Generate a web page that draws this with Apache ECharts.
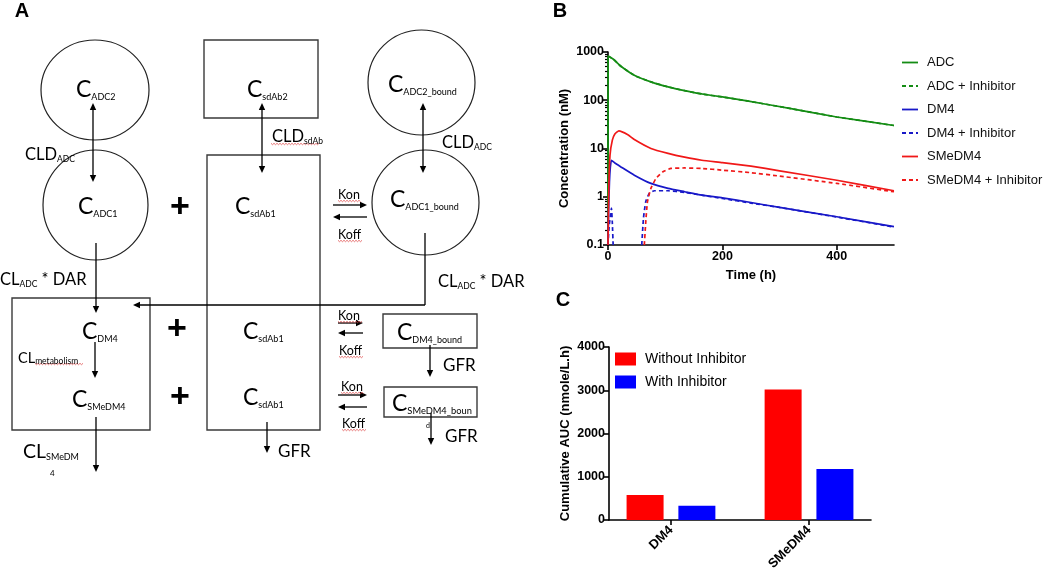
<!DOCTYPE html>
<html><head><meta charset="utf-8">
<script src="https://cdn.jsdelivr.net/npm/echarts@6/dist/echarts.min.js"></script>
<style>html,body{margin:0;padding:0;background:#fff}#c{width:1050px;height:575px}</style>
</head><body><div id="c"></div>
<script>
// ---------------- DATA ----------------
const lineSeriesNames = ['ADC', 'ADC + Inhibitor', 'DM4', 'DM4 + Inhibitor', 'SMeDM4', 'SMeDM4 + Inhibitor'];

const adcTime = [0, 0.3, 10, 22, 46, 75, 105, 134, 164, 200, 243, 320, 400, 500];
const adcConc = [0.1, 826, 700, 513, 329, 240, 189, 158, 135, 117, 97, 67, 45, 30];

const adcInhTime = [0, 0.3, 10, 22, 46, 75, 105, 134, 164, 200, 243, 320, 400, 500];
const adcInhConc = [0.1, 826, 700, 513, 329, 240, 189, 158, 135, 117, 97, 67, 45, 30];

const dm4Time = [0, 1, 2.5, 4, 6, 12, 22, 46, 75, 105, 134, 164, 200, 250, 300, 400, 500];
const dm4Conc = [0.1, 0.5, 2.0, 4.0, 5.7, 5.0, 4.2, 2.8, 1.89, 1.49, 1.27, 1.08, 0.95, 0.76, 0.6, 0.385, 0.24];

const dm4InhTime = [0, 2, 4, 6, 7.5, 9, 30, 59, 62, 66, 72, 81, 105, 134, 164, 200, 250, 300, 400, 500];
const dm4InhConc = [0.1, 0.25, 0.38, 0.58, 0.3, 0.1, null, 0.1, 0.36, 0.79, 1.17, 1.33, 1.33, 1.23, 1.08, 0.92, 0.74, 0.6, 0.38, 0.235];

const smeTime = [0, 1.5, 3.5, 7.6, 12, 19, 34, 46, 75, 105, 134, 164, 200, 250, 300, 400, 500];
const smeConc = [0.1, 1.7, 7.3, 14.9, 20, 23.2, 19.5, 15.3, 10, 7.9, 6.6, 5.7, 5.1, 4.3, 3.45, 2.2, 1.33];

const smeInhTime = [63.5, 66, 69, 75, 84, 96, 110, 134, 164, 200, 250, 300, 400, 500];
const smeInhConc = [0.1, 0.3, 0.79, 1.49, 2.4, 3.3, 3.86, 3.95, 3.86, 3.56, 3.15, 2.68, 1.89, 1.27];

const barCategories = ['DM4', 'SMeDM4'];
const barSeriesNames = ['Without Inhibitor', 'With Inhibitor'];
const aucWithout = [580, 3020];
const aucWith = [330, 1180];

const timeTicks = [0, 200, 400];
const concTickLabels = ['0.1', '1', '10', '100', '1000'];
const aucTickLabels = ['0', '1000', '2000', '3000', '4000'];

// ---------------- HELPERS ----------------
function zip(t, v) { return t.map((x, i) => [x, v[i] === null ? '-' : v[i]]); }
const concTickValues = concTickLabels.map(Number);
const minorTicks = [];
for (let d = 0; d < concTickValues.length - 1; d++) {
  for (let k = 2; k <= 9; k++) minorTicks.push(+(concTickValues[d] * k).toPrecision(3));
}
const catIdx = barCategories.map((c, i) => i);

const AF = '"Liberation Sans", Arial, sans-serif';
const DF = 'Lato, "Noto Sans", sans-serif';

// ---------------- DIAGRAM (panel A) ----------------
const els = [];
function ell(cx, cy, rx, ry) { els.push({ type: 'ellipse', shape: { cx, cy, rx, ry }, style: { fill: 'none', stroke: '#222', lineWidth: 1.2 } }); }
function box(x1, y1, x2, y2) { els.push({ type: 'rect', shape: { x: x1, y: y1, width: x2 - x1, height: y2 - y1 }, style: { fill: 'none', stroke: '#3a3a3a', lineWidth: 1.4 } }); }
function seg(x1, y1, x2, y2) { els.push({ type: 'line', shape: { x1, y1, x2, y2 }, style: { stroke: '#000', lineWidth: 1.3 } }); }
function head(x, y, dx, dy) {
  const L = 7, W = 3.2, bx = x - dx * L, by = y - dy * L, px = -dy, py = dx;
  els.push({ type: 'polygon', shape: { points: [[x, y], [bx + px * W, by + py * W], [bx - px * W, by - py * W]] }, style: { fill: '#000' } });
}
function arrow(x1, y1, x2, y2, both) {
  const len = Math.hypot(x2 - x1, y2 - y1), ux = (x2 - x1) / len, uy = (y2 - y1) / len;
  seg(x1 + (both ? ux * 5 : 0), y1 + (both ? uy * 5 : 0), x2 - ux * 5, y2 - uy * 5);
  head(x2, y2, ux, uy);
  if (both) head(x1, y1, -ux, -uy);
}
function txt(x, y, parts, family, weight) {
  const rich = {}; let s = '';
  parts.forEach((p, i) => {
    rich['t' + i] = { fontSize: p[1], fontFamily: family || DF, fontWeight: weight || 'normal', fill: '#000', color: '#000', verticalAlign: 'bottom' };
    s += '{t' + i + '|' + p[0] + '}';
  });
  els.push({ type: 'text', x, y, style: { text: s, rich, align: 'left', textAlign: 'left', verticalAlign: 'middle', textVerticalAlign: 'middle', fill: '#000' } });
}
function plus(cx, cy) {
  els.push({ type: 'text', x: cx, y: cy, style: { text: '+', fontSize: 34, fontWeight: 'bold', fontFamily: AF, fill: '#000', align: 'center', textAlign: 'center', verticalAlign: 'middle', textVerticalAlign: 'middle' } });
}
function squig(x1, x2, y) {
  const pts = []; let up = true;
  for (let x = x1; x <= x2; x += 1.5) { pts.push([x, y + (up ? -0.7 : 0.7)]); up = !up; }
  els.push({ type: 'polyline', shape: { points: pts }, style: { stroke: '#e05050', lineWidth: 0.8, fill: 'none' } });
}

// shapes
ell(95, 90, 54, 50);
ell(95.5, 205, 52.5, 55);
ell(421.5, 82.5, 53.5, 52.5);
ell(425.5, 202.5, 53.5, 52.5);
box(204, 40, 318, 118);
box(207, 155, 320, 430);
box(12, 298, 150, 430);
box(383, 314, 477, 348);
box(384, 387, 477, 417);

// arrows
arrow(93, 103, 93, 182, true);
arrow(262, 103, 262, 173, true);
arrow(423, 103, 423, 173, true);
seg(96, 243, 96, 309); head(96, 313, 0, 1);
seg(425, 233, 425, 305);
seg(425, 305, 137, 305); head(133, 305, -1, 0);
arrow(333, 205, 367, 205); arrow(367, 217, 333, 217);
arrow(95, 342, 95, 378);
arrow(96, 417, 96, 472);
arrow(267, 422, 267, 453);
arrow(338, 323, 363, 323); arrow(363, 333, 338, 333);
arrow(430, 345, 430, 377);
arrow(338, 395, 367, 395); arrow(367, 407, 338, 407);
arrow(431, 413, 431, 445);

// squiggles
squig(338, 361, 201); squig(338, 363, 241); squig(271, 320, 144); squig(35, 84, 364);
squig(338, 362, 322); squig(339, 363, 357); squig(341, 364, 393); squig(342, 366, 430);

// texts
txt(76, 90, [['C', 23], ['ADC2', 9]]);
txt(25, 155, [['CLD', 16.5], ['ADC', 8.5]]);
txt(78, 207, [['C', 23], ['ADC1', 9]]);
plus(180, 208);
txt(247, 90, [['C', 23], ['sdAb2', 9]]);
txt(272, 137, [['CLD', 16.5], ['sdAb', 8.5]]);
txt(235, 207, [['C', 23], ['sdAb1', 9]]);
txt(388, 85, [['C', 23], ['ADC2_bound', 9]]);
txt(442, 143, [['CLD', 16.5], ['ADC', 8.5]]);
txt(390, 200, [['C', 23], ['ADC1_bound', 9]]);
txt(338, 195, [['Kon', 12.5]]); txt(338, 235, [['Koff', 12.5]]);
txt(0, 280, [['CL', 16.5], ['ADC', 8.5], [' * DAR', 16.5]]);
txt(438, 282, [['CL', 16.5], ['ADC', 8.5], [' * DAR', 16.5]]);
txt(82, 332, [['C', 23], ['DM4', 9]]);
txt(18, 358, [['CL', 14.5], ['metabolism', 8.5]]);
txt(72, 400, [['C', 23], ['SMeDM4', 9]]);
plus(177, 330); plus(180, 398);
txt(243, 332, [['C', 23], ['sdAb1', 9]]);
txt(243, 398, [['C', 23], ['sdAb1', 9]]);
txt(23, 452, [['CL', 19.5], ['SMeDM', 9]]);
txt(50, 473, [['4', 8]]);
txt(278, 452, [['GFR', 17]]);
txt(338, 316, [['Kon', 12.5]]); txt(339, 351, [['Koff', 12.5]]);
txt(397, 333, [['C', 23], ['DM4_bound', 9]]);
txt(443, 366, [['GFR', 17]]);
txt(341, 387, [['Kon', 12.5]]); txt(342, 424, [['Koff', 12.5]]);
txt(392, 404, [['C', 23], ['SMeDM4_boun', 9.3]]);
txt(426, 426, [['d', 7]]);
txt(445, 437, [['GFR', 17]]);

// panel letters
function letter(x, y, s) { els.push({ type: 'text', x, y, style: { text: s, fontSize: 20, fontWeight: 'bold', fontFamily: AF, fill: '#000', align: 'center', textAlign: 'center', verticalAlign: 'middle', textVerticalAlign: 'middle' } }); }
letter(22, 11, 'A'); letter(560, 11, 'B'); letter(563, 300, 'C');

// ---------------- CHARTS ----------------
const green = '#148c14', blue = '#1818c8', red = '#f01818';
const axisLineStyle = { color: '#000', width: 1.6 };
const labelStyle = { fontWeight: 'bold', fontSize: 12.5, color: '#000', fontFamily: AF };
const nameStyle = { fontWeight: 'bold', fontSize: 13, color: '#000', fontFamily: AF };

const solidIcon = 'path://M0,0h16v1.8h-16z';
const dashedIcon = 'path://M0,0h4v1.8h-4z M7,0h4v1.8h-4z M14,0h2v1.8h-2z';

function lineSeries(name, t, v, color, dashed) {
  return {
    type: 'line', name, data: zip(t, v), xAxisIndex: 0, yAxisIndex: 0,
    showSymbol: false, symbol: 'none', smooth: 0.15,
    color, lineStyle: { color, width: 1.7, type: dashed ? [4, 3] : 'solid' },
    itemStyle: { color }
  };
}

const option = {
  animation: false,
  textStyle: { fontFamily: AF },
  graphic: { elements: els },
  grid: [
    { left: 608, top: 52, width: 286, height: 193 },
    { left: 609, top: 347, width: 262, height: 173 }
  ],
  xAxis: [
    {
      type: 'value', gridIndex: 0, min: 0, max: 500,
      name: 'Time (h)', nameLocation: 'middle', nameGap: 24, nameTextStyle: nameStyle,
      axisLine: { show: true, onZero: false, lineStyle: axisLineStyle },
      axisTick: { show: true, length: 5, customValues: timeTicks, lineStyle: axisLineStyle },
      axisLabel: Object.assign({ margin: 5, customValues: timeTicks }, labelStyle),
      splitLine: { show: false }
    },
    {
      type: 'value', gridIndex: 1, min: -0.449, max: 1.449,
      axisLine: { show: true, onZero: false, lineStyle: axisLineStyle },
      axisTick: { show: true, length: 5, customValues: catIdx, lineStyle: axisLineStyle },
      axisLabel: {
        customValues: catIdx, rotate: 45, margin: 8, fontSize: 13, fontWeight: 'bold', color: '#000', fontFamily: AF,
        formatter: v => barCategories[Math.round(v)] || ''
      },
      splitLine: { show: false }
    }
  ],
  yAxis: [
    {
      type: 'log', logBase: 10, gridIndex: 0, min: 0.1, max: 1000, position: 'left',
      name: 'Concentration (nM)', nameLocation: 'middle', nameGap: 37, nameTextStyle: nameStyle,
      axisLine: { show: true, onZero: false, lineStyle: axisLineStyle },
      axisTick: { show: true, length: 5, customValues: concTickValues, lineStyle: axisLineStyle },
      axisLabel: Object.assign({
        margin: 4, customValues: concTickValues,
        formatter: v => { const i = concTickValues.findIndex(c => Math.abs(c - v) / c < 1e-6); return i >= 0 ? concTickLabels[i] : ''; }
      }, labelStyle),
      splitLine: { show: false }, minorTick: { show: false }
    },
    {
      type: 'value', gridIndex: 1, min: 0, max: 4000, interval: 1000, position: 'left',
      name: 'Cumulative AUC (nmole/L.h)', nameLocation: 'middle', nameGap: 37, nameTextStyle: nameStyle,
      axisLine: { show: true, onZero: false, lineStyle: axisLineStyle },
      axisTick: { show: true, length: 5, lineStyle: axisLineStyle },
      axisLabel: Object.assign({ margin: 4, formatter: (v, i) => aucTickLabels[i] }, labelStyle),
      splitLine: { show: false }
    },
    {
      type: 'log', logBase: 10, gridIndex: 0, min: 0.1, max: 1000, position: 'left',
      axisLine: { show: false, onZero: false }, axisLabel: { show: false }, splitLine: { show: false },
      axisTick: { show: true, length: 3, customValues: minorTicks, lineStyle: { color: '#000', width: 1.2 } }
    }
  ],
  legend: [
    {
      data: lineSeriesNames.map(n => ({ name: n, icon: n.indexOf('Inhibitor') >= 0 ? dashedIcon : solidIcon })),
      orient: 'vertical', left: 897, top: 51,
      itemWidth: 16, itemHeight: 14, itemGap: 10.5,
      textStyle: { fontSize: 13, color: '#111', fontFamily: AF, padding: [0, 0, 0, 4] }
    },
    {
      data: barSeriesNames, orient: 'vertical', left: 610, top: 347,
      itemWidth: 21, itemHeight: 13, itemGap: 9, icon: 'rect',
      textStyle: { fontSize: 14, color: '#000', fontFamily: AF, padding: [0, 0, 0, 4] }
    }
  ],
  series: [
    lineSeries('ADC + Inhibitor', adcInhTime, adcInhConc, green, true),
    lineSeries('ADC', adcTime, adcConc, green, false),
    lineSeries('DM4 + Inhibitor', dm4InhTime, dm4InhConc, blue, true),
    lineSeries('DM4', dm4Time, dm4Conc, blue, false),
    lineSeries('SMeDM4 + Inhibitor', smeInhTime, smeInhConc, red, true),
    lineSeries('SMeDM4', smeTime, smeConc, red, false),
    {
      type: 'bar', name: 'Without Inhibitor', data: catIdx.map(i => [i, aucWithout[i]]), xAxisIndex: 1, yAxisIndex: 1,
      barWidth: 37, barGap: '40%', itemStyle: { color: '#ff0000' }
    },
    {
      type: 'bar', name: 'With Inhibitor', data: catIdx.map(i => [i, aucWith[i]]), xAxisIndex: 1, yAxisIndex: 1,
      barWidth: 37, barGap: '40%', itemStyle: { color: '#0000ff' }
    }
  ]
};

const chart = echarts.init(document.getElementById('c'), null, { renderer: 'canvas' });
chart.setOption(option);
</script>
</body></html>
